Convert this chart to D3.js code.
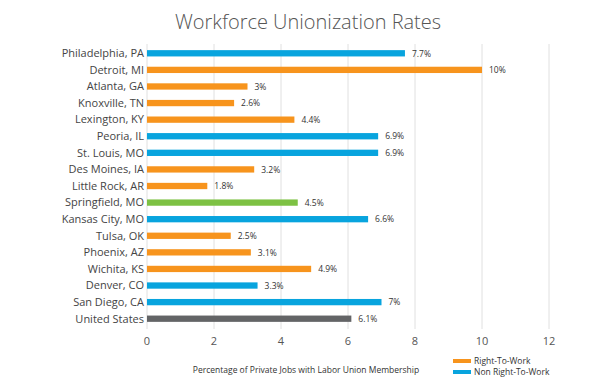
<!DOCTYPE html>
<html>
<head>
<meta charset="utf-8">
<script src="https://cdn.jsdelivr.net/npm/d3@7"></script>
<style>
  body { margin: 0; background: #fff; }
  svg text { font-family: "Open Sans", Lato, sans-serif; }
</style>
</head>
<body>
<svg id="chart"></svg>
<script>
// Chart data
const cities = ['Philadelphia, PA', 'Detroit, MI', 'Atlanta, GA', 'Knoxville, TN', 'Lexington, KY',
    'Peoria, IL', 'St. Louis, MO', 'Des Moines, IA', 'Little Rock, AR', 'Springfield, MO',
    'Kansas City, MO', 'Tulsa, OK', 'Phoenix, AZ', 'Wichita, KS', 'Denver, CO', 'San Diego, CA',
    'United States'];
const rates = [7.7, 10, 3, 2.6, 4.4, 6.9, 6.9, 3.2, 1.8, 4.5, 6.6, 2.5, 3.1, 4.9, 3.3, 7, 6.1];
const groups = ['non', 'rtw', 'rtw', 'rtw', 'rtw', 'non', 'non', 'rtw', 'rtw', 'mixed',
    'non', 'rtw', 'rtw', 'rtw', 'non', 'non', 'us'];
const xTicks = [0, 2, 4, 6, 8, 10, 12];
const legendLabels = ['Right-To-Work', 'Non Right-To-Work'];

const colors = { rtw: '#f7941d', non: '#08a4de', mixed: '#7dc143', us: '#636466' };

const width = 613, height = 387;
const margin = { top: 45, left: 147, right: 64, bottom: 60 };

const svg = d3.select('#chart').attr('width', width).attr('height', height);

const x = d3.scaleLinear().domain([0, 12]).range([margin.left, width - margin.right]);
const y = d3.scaleBand().domain(cities).range([margin.top, height - margin.bottom]).paddingInner(0.62).paddingOuter(0.31);

// Title
svg.append('text')
    .attr('x', 308).attr('y', 29)
    .attr('text-anchor', 'middle')
    .style('font-size', '20px').style('font-weight', 300)
    .attr('fill', '#555')
    .text('Workforce Unionization Rates');

// Gridlines
svg.append('g').selectAll('line')
    .data(xTicks)
    .join('line')
    .attr('x1', d => x(d)).attr('x2', d => x(d))
    .attr('y1', margin.top - 1).attr('y2', height - margin.bottom + 2)
    .attr('stroke', '#e0e0e0').attr('stroke-width', 1);

// Axis tick labels
svg.append('g').selectAll('text')
    .data(xTicks)
    .join('text')
    .attr('x', d => x(d)).attr('y', 345)
    .attr('text-anchor', 'middle')
    .style('font-size', '11px')
    .attr('fill', '#555')
    .text(d => d);

// Bars
const rows = cities.map((c, i) => ({ city: c, value: rates[i], group: groups[i] }));

svg.append('g').selectAll('rect')
    .data(rows)
    .join('rect')
    .attr('x', x(0))
    .attr('y', d => y(d.city))
    .attr('width', d => x(d.value) - x(0))
    .attr('height', y.bandwidth())
    .attr('fill', d => colors[d.group]);

// City labels
svg.append('g').selectAll('text')
    .data(rows)
    .join('text')
    .attr('x', x(0) - 3)
    .attr('y', d => y(d.city) + y.bandwidth() / 2)
    .attr('dy', '0.35em')
    .attr('text-anchor', 'end')
    .style('font-size', '11px')
    .attr('fill', '#444')
    .text(d => d.city);

// Value labels
svg.append('g').selectAll('text')
    .data(rows)
    .join('text')
    .attr('x', d => x(d.value) + 7)
    .attr('y', d => y(d.city) + y.bandwidth() / 2)
    .attr('dy', '0.38em')
    .style('font-size', '8.5px')
    .attr('fill', '#333')
    .text(d => d.value + '%');

// Axis title
svg.append('text')
    .attr('x', 306).attr('y', 373)
    .attr('text-anchor', 'middle')
    .style('font-size', '8.5px')
    .attr('fill', '#333')
    .text('Percentage of Private Jobs with Labor Union Membership');

// Legend
const legend = svg.append('g').selectAll('g')
    .data(legendLabels)
    .join('g')
    .attr('transform', (d, i) => `translate(453, ${359 + i * 11})`);

legend.append('rect')
    .attr('width', 18).attr('height', 4)
    .attr('fill', (d, i) => i === 0 ? colors.rtw : colors.non);

legend.append('text')
    .attr('x', 21).attr('y', 2)
    .attr('dy', '0.35em')
    .style('font-size', '8.5px')
    .attr('fill', '#333')
    .text(d => d);
</script>
</body>
</html>
